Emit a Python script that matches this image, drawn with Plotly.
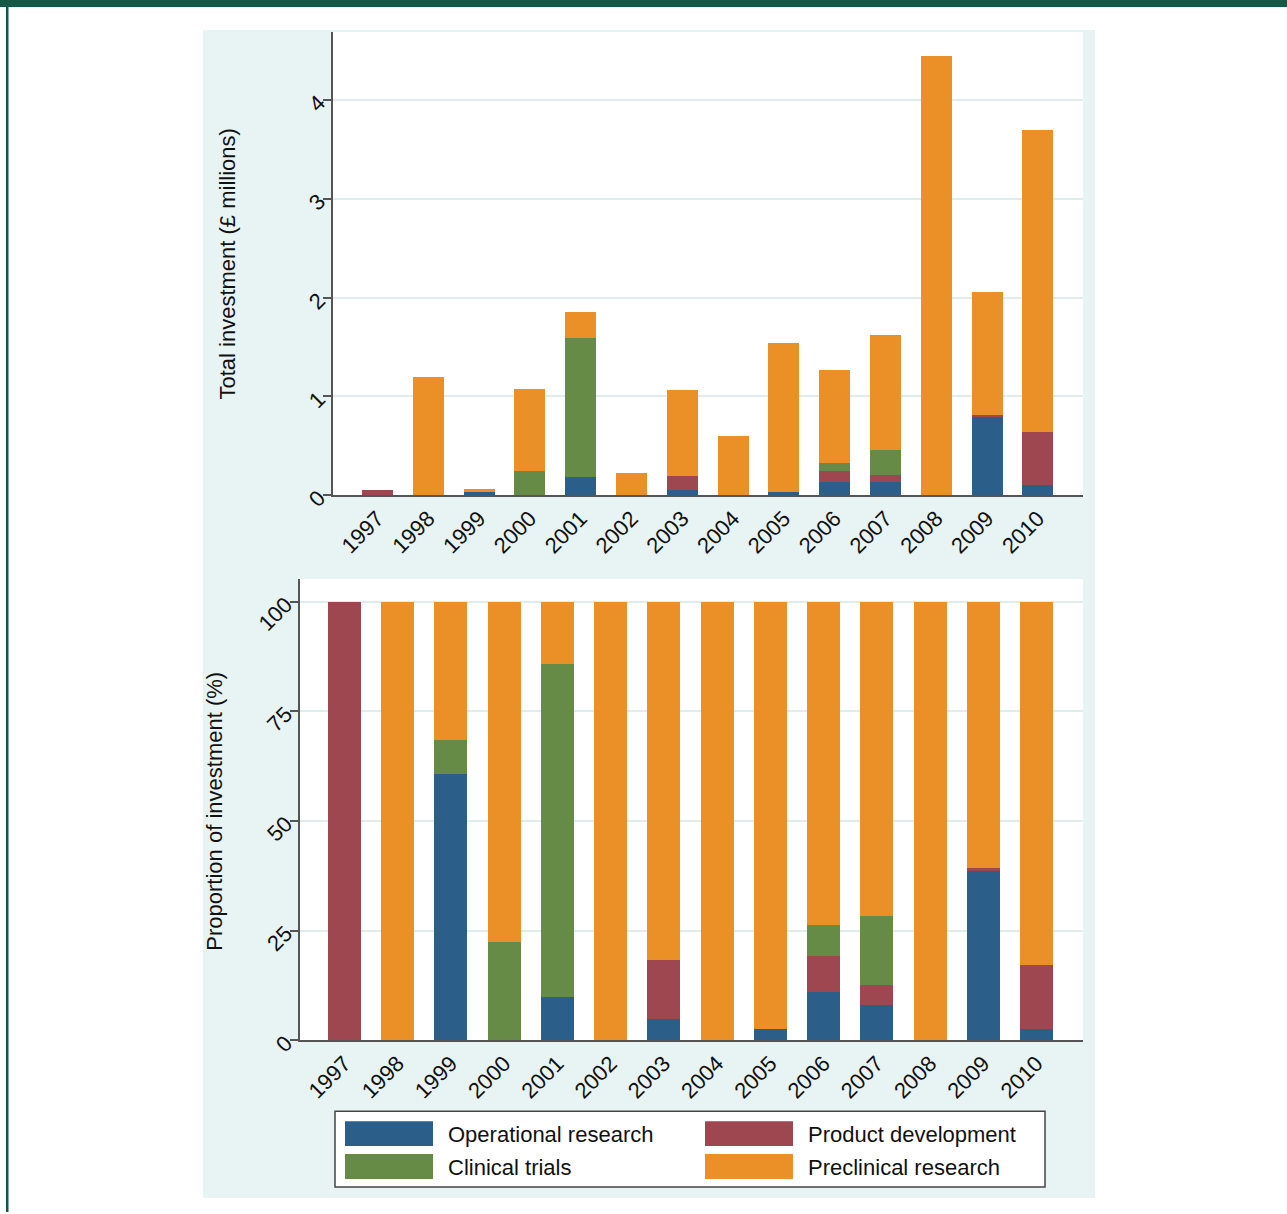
import plotly.graph_objects as go

W, H = 1287, 1214
FIG_H = 1229

years = ["1997", "1998", "1999", "2000", "2001", "2002", "2003",
         "2004", "2005", "2006", "2007", "2008", "2009", "2010"]

series_names = ["Operational research", "Product development",
                "Clinical trials", "Preclinical research"]
colors = ["#2B5E88", "#9E4750", "#658B47", "#EB8F27"]

# Total investment (£ millions)
inv_operational = [0, 0, 0.037, 0, 0.185, 0, 0.05, 0, 0.03, 0.13, 0.13, 0, 0.80, 0.10]
inv_product = [0.05, 0, 0, 0, 0, 0, 0.14, 0, 0, 0.11, 0.07, 0, 0.012, 0.535]
inv_clinical = [0, 0, 0.005, 0.24, 1.405, 0, 0, 0, 0, 0.09, 0.26, 0, 0, 0]
inv_preclinical = [0, 1.2, 0.019, 0.83, 0.265, 0.22, 0.87, 0.6, 1.51, 0.933, 1.165, 4.44, 1.243, 3.055]

# Proportion of investment (%)
pct_operational = [0, 0, 60.7, 0, 9.8, 0, 4.8, 0, 2.6, 10.9, 8.1, 0, 38.6, 2.6]
pct_product = [100, 0, 0, 0, 0, 0, 13.4, 0, 0, 8.3, 4.5, 0, 0.6, 14.6]
pct_clinical = [0, 0, 7.7, 22.5, 76.1, 0, 0, 0, 0, 7.1, 15.7, 0, 0, 0]
pct_preclinical = [0, 100, 31.6, 77.5, 14.1, 100, 81.8, 100, 97.4, 73.7, 71.7, 100, 60.8, 82.8]

top_ticks = [0, 1, 2, 3, 4]
bottom_ticks = [0, 25, 50, 75, 100]

FONT = "Liberation Sans, Arial, sans-serif"
TXT = "#111111"
AXC = "#555555"
GRID = "#E1EDED"
PANEL = "#E8F3F3"


def px(x):
    return x / W


def py(y):
    return 1 - y / H


fig = go.Figure()

top_vals = [inv_operational, inv_product, inv_clinical, inv_preclinical]
bot_vals = [pct_operational, pct_product, pct_clinical, pct_preclinical]

for name, col, v in zip(series_names, colors, top_vals):
    fig.add_trace(go.Bar(x=years, y=v, name=name, marker=dict(color=col, line=dict(width=0)),
                         width=0.61, xaxis="x", yaxis="y", showlegend=False))
for name, col, v in zip(series_names, colors, bot_vals):
    fig.add_trace(go.Bar(x=years, y=v, name=name, marker=dict(color=col, line=dict(width=0)),
                         width=0.62, xaxis="x2", yaxis="y2", showlegend=False))

axis_common = dict(showline=True, linecolor=AXC, linewidth=1.5, zeroline=False,
                   tickfont=dict(family=FONT, size=22, color=TXT), tickangle=-45)

fig.update_layout(
    width=W, height=FIG_H,
    autosize=False,
    margin=dict(l=0, r=0, t=0, b=0),
    paper_bgcolor="white",
    plot_bgcolor="rgba(0,0,0,0)",
    barmode="stack",
    font=dict(family=FONT, color=TXT),
    xaxis=dict(domain=[px(333), px(1083)], anchor="y", type="category",
               range=[-0.876, 13.886], showgrid=False, ticks="", **axis_common),
    yaxis=dict(domain=[py(496), py(32)], anchor="x", range=[0, 4.687],
               tickvals=top_ticks, showgrid=True, gridcolor=GRID, gridwidth=1.5,
               ticks="outside", ticklen=8, tickcolor=AXC, tickwidth=1.5, **axis_common),
    xaxis2=dict(domain=[px(300), px(1083)], anchor="y2", type="category",
                range=[-0.836, 13.874], showgrid=False, ticks="", **axis_common),
    yaxis2=dict(domain=[py(1042), py(580)], anchor="x2", range=[0, 105.2],
                tickvals=bottom_ticks, showgrid=True, gridcolor=GRID, gridwidth=1.5,
                ticks="outside", ticklen=8, tickcolor=AXC, tickwidth=1.5, **axis_common),
)

shapes = []
# light panel
shapes.append(dict(type="rect", xref="paper", yref="paper", x0=px(203), x1=px(1095),
                   y0=py(1200), y1=py(30), fillcolor=PANEL, line=dict(width=0), layer="below"))
# white plot regions
shapes.append(dict(type="rect", xref="paper", yref="paper", x0=px(333), x1=px(1083),
                   y0=py(496), y1=py(32), fillcolor="white", line=dict(width=0), layer="below"))
shapes.append(dict(type="rect", xref="paper", yref="paper", x0=px(300), x1=px(1083),
                   y0=py(1042), y1=py(580), fillcolor="white", line=dict(width=0), layer="below"))
# dark green frame
shapes.append(dict(type="rect", xref="paper", yref="paper", x0=0, x1=1,
                   y0=py(7), y1=1, fillcolor="#125A45", line=dict(width=0), layer="above"))
shapes.append(dict(type="rect", xref="paper", yref="paper", x0=px(6), x1=px(8.5),
                   y0=0, y1=1, fillcolor="#125A45", line=dict(width=0), layer="above"))
# legend box
shapes.append(dict(type="rect", xref="paper", yref="paper", x0=px(335), x1=px(1045),
                   y0=py(1189), y1=py(1113), fillcolor="white",
                   line=dict(width=1.5, color="#444444"), layer="above"))

annotations = [
    dict(text="Total investment (£ millions)", textangle=-90, x=px(228), y=py(265),
         xref="paper", yref="paper", showarrow=False, xanchor="center", yanchor="middle",
         font=dict(family=FONT, size=22, color=TXT)),
    dict(text="Proportion of investment (%)", textangle=-90, x=px(215), y=py(812),
         xref="paper", yref="paper", showarrow=False, xanchor="center", yanchor="middle",
         font=dict(family=FONT, size=22, color=TXT)),
]

# legend entries (swatch + label) in a 2 x 2 grid
leg_pos = [(345, 1123), (705, 1123), (345, 1156), (705, 1156)]
for (lx, ly), name, col in zip(leg_pos, series_names, colors):
    shapes.append(dict(type="rect", xref="paper", yref="paper", x0=px(lx), x1=px(lx + 88),
                       y0=py(ly + 25), y1=py(ly), fillcolor=col, line=dict(width=0), layer="above"))
    annotations.append(dict(text=name, x=px(lx + 101), y=py(ly + 13), xref="paper", yref="paper",
                            showarrow=False, xanchor="left", yanchor="middle",
                            font=dict(family=FONT, size=22, color=TXT)))

fig.update_layout(shapes=shapes, annotations=annotations)

post = """
document.body.style.margin='0';
document.body.style.overflow='hidden';
"""

fig.write_html("out.html",
               config={"displayModeBar": False, "responsive": False},
               post_script=post)
